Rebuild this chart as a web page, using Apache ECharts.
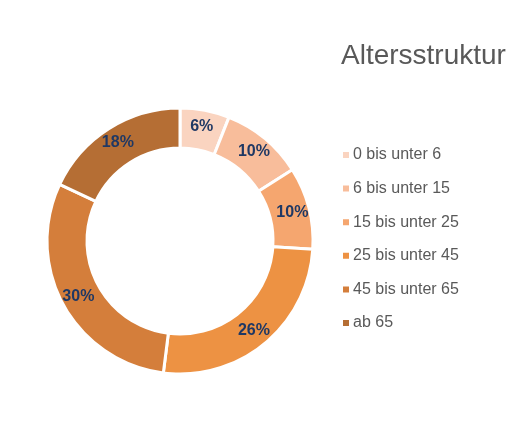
<!DOCTYPE html>
<html>
<head>
<meta charset="utf-8">
<script src="https://cdn.jsdelivr.net/npm/echarts@6/dist/echarts.min.js"></script>
<style>
  html, body { margin: 0; padding: 0; background: #fff; }
  #container { width: 518px; height: 432px; }
</style>
</head>
<body>
<div id="container"></div>
<script>
const categories = [
  "0 bis unter 6",
  "6 bis unter 15",
  "15 bis unter 25",
  "25 bis unter 45",
  "45 bis unter 65",
  "ab 65",
];
const values = [6, 10, 10, 26, 30, 18];
const colors = ["#FAD4C0", "#F8BD9B", "#F5A66F", "#ED9243", "#D47E3B", "#B56E34"];

const myChart = echarts.init(document.getElementById("container"), null, {
  renderer: "canvas",
});

const option = {
  animation: false,
  title: {
    text: "Altersstruktur",
    left: 336,
    top: 37,
    textStyle: {
      fontFamily: "Liberation Sans",
      fontWeight: "normal",
      fontSize: 28,
      color: "#595959",
    },
  },
  legend: {
    orient: "vertical",
    left: 336,
    top: 142,
    icon: "rect",
    itemWidth: 8,
    itemHeight: 8,
    itemGap: 17.6,
    textStyle: {
      fontFamily: "Liberation Sans",
      fontSize: 16,
      lineHeight: 16,
      color: "#595959",
      padding: [0, 0, 0, -2],
    },
    data: categories,
  },
  series: [
    {
      type: "pie",
      center: [180, 241],
      radius: [93, 133],
      startAngle: 90,
      clockwise: true,
      itemStyle: { borderColor: "#fff", borderWidth: 3 },
      label: {
        position: "inside",
        formatter: "{c}%",
        fontFamily: "Liberation Sans",
        fontWeight: "bold",
        fontSize: 16,
        color: "#1F3864",
      },
      labelLine: { show: false },
      emphasis: { disabled: true },
      data: categories.map((name, i) => ({
        name: name,
        value: values[i],
        itemStyle: { color: colors[i] },
      })),
    },
  ],
};

myChart.setOption(option);
</script>
</body>
</html>
